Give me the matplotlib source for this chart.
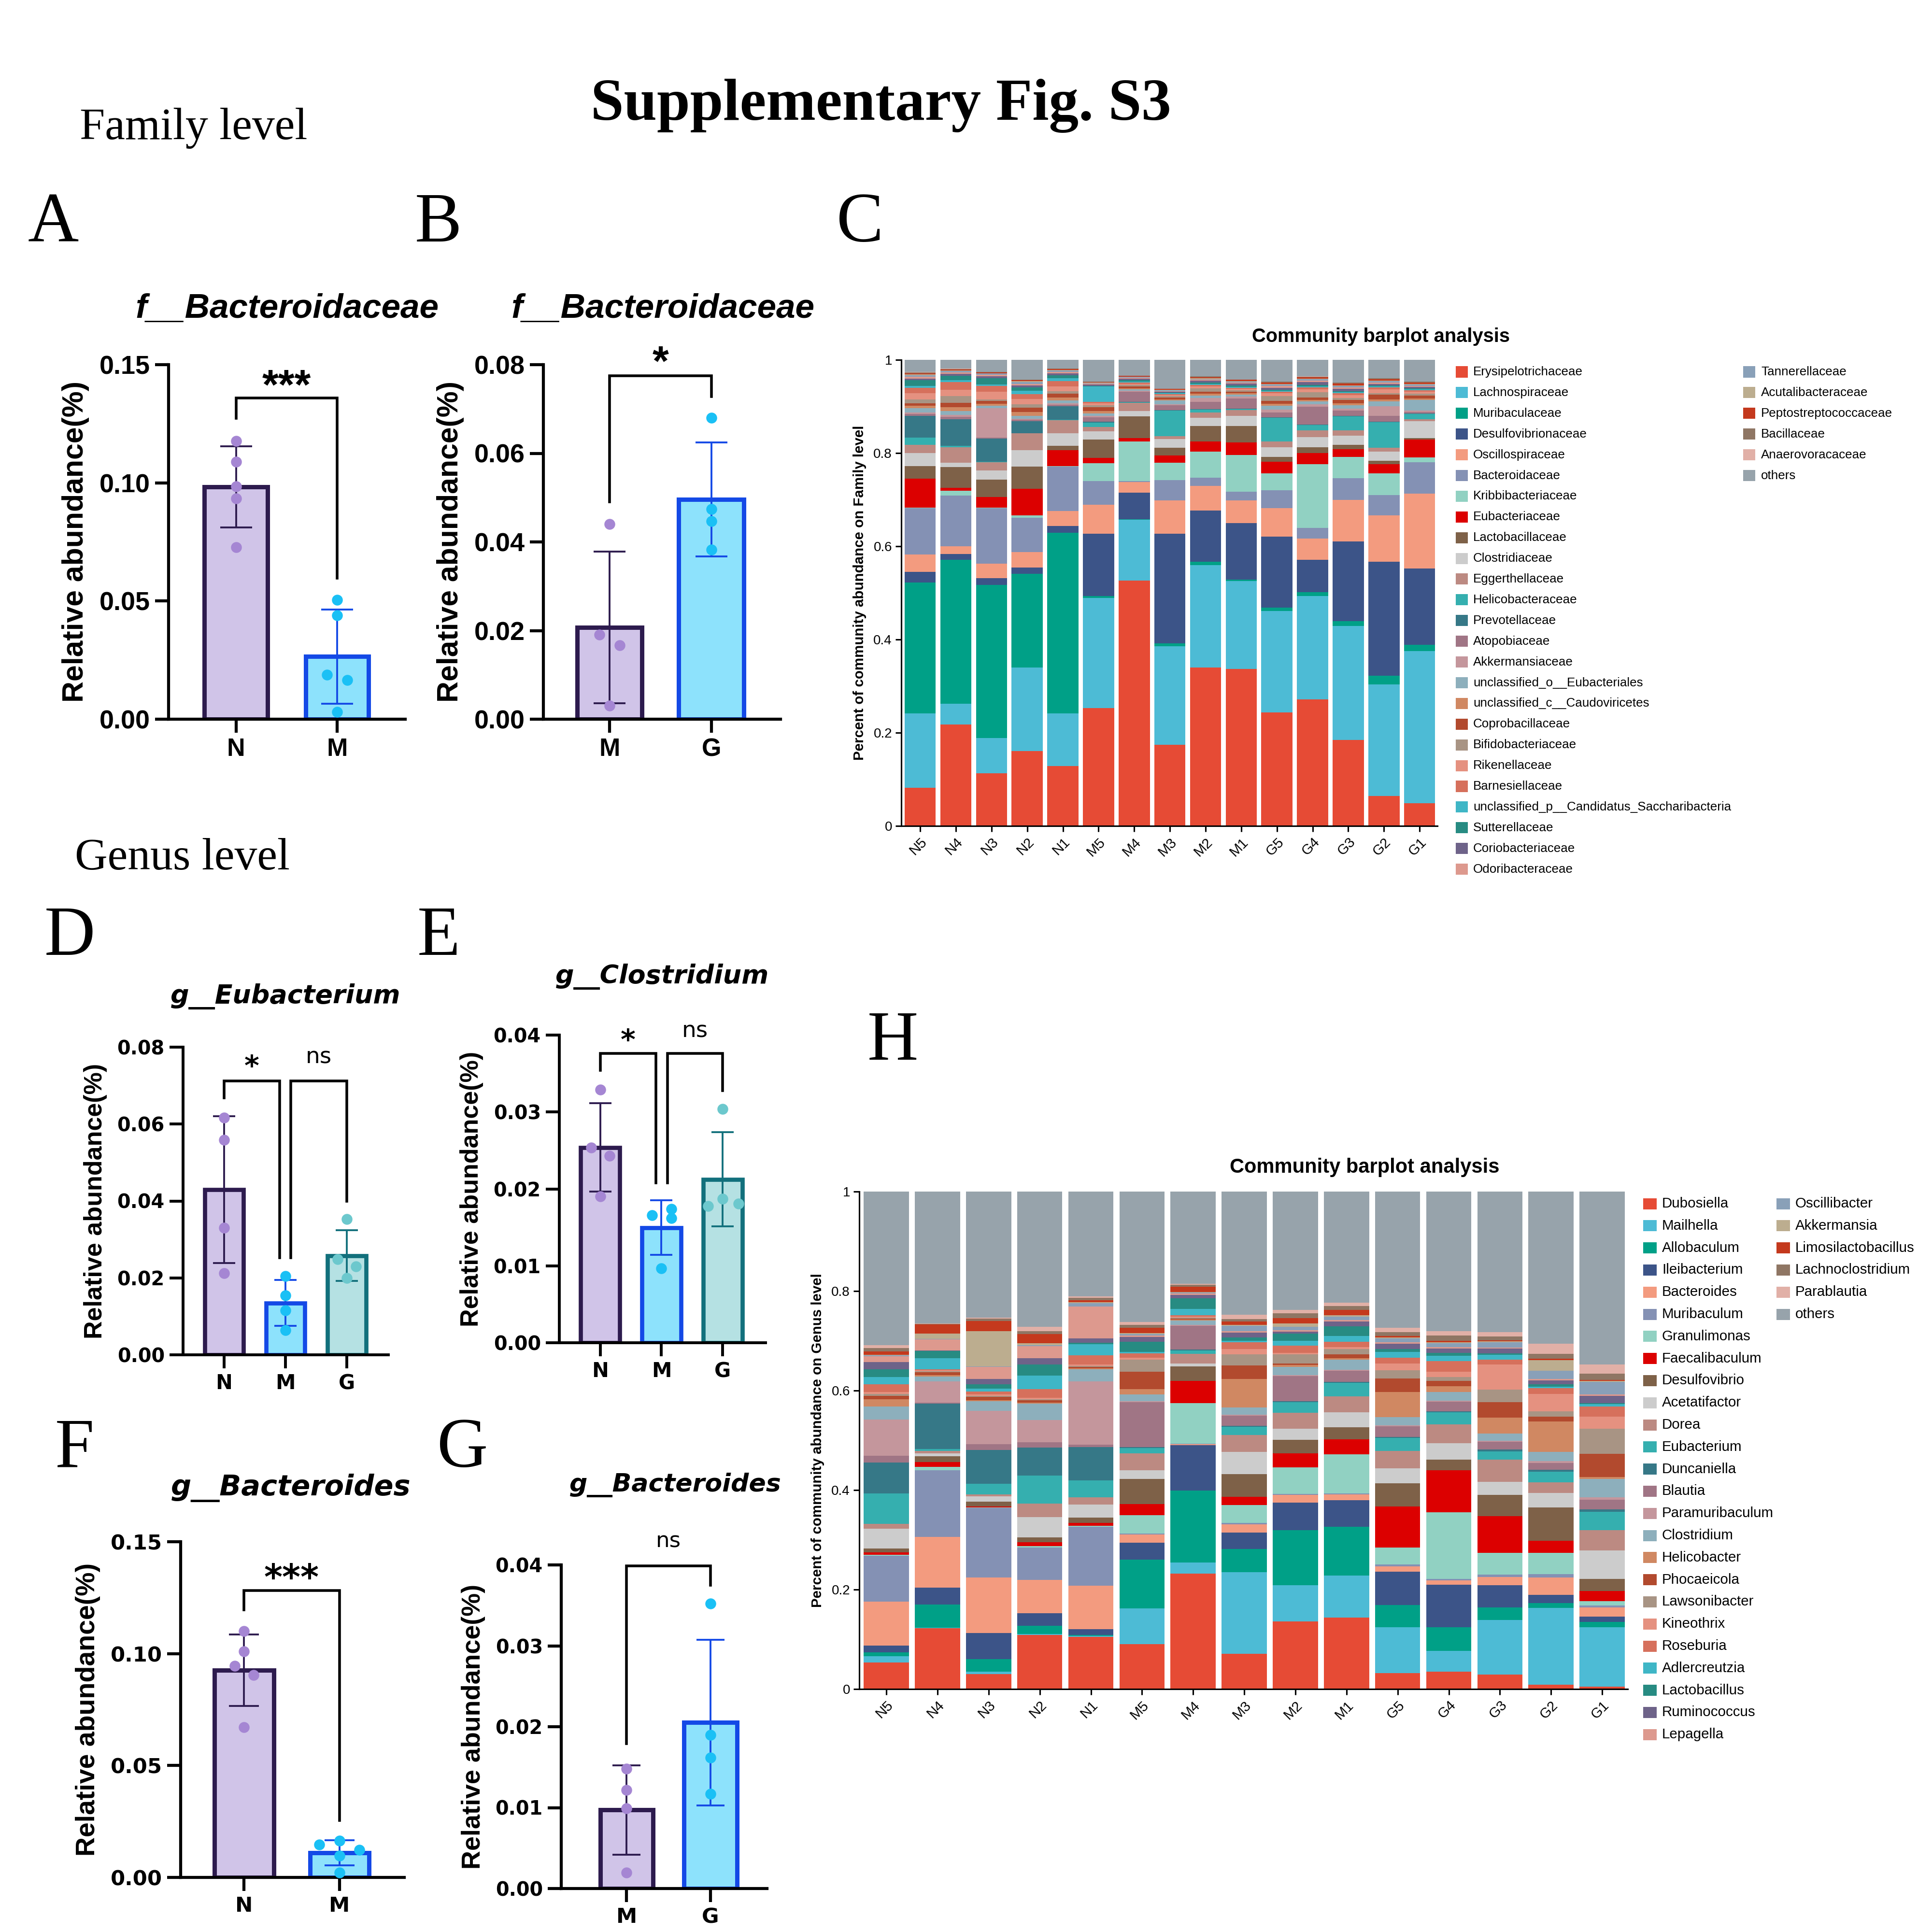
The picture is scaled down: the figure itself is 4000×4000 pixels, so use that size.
import numpy as np
import matplotlib.pyplot as plt
from matplotlib.patches import Rectangle
from matplotlib.ticker import FormatStrFormatter

plt.rcParams['font.family'] = 'Liberation Sans'

# ---------------- dot + bar panels: relative abundance per mouse ----------------
a_groups = ['N', 'M']
a_n = [0.1178, 0.109, 0.0984, 0.0934, 0.0728]
a_m = [0.0505, 0.0439, 0.0188, 0.0166, 0.003]

b_groups = ['M', 'G']
b_m = [0.044, 0.0191, 0.0167, 0.003]
b_g = [0.068, 0.0474, 0.0447, 0.0383]

d_groups = ['N', 'M', 'G']
d_n = [0.0617, 0.0559, 0.033, 0.0212]
d_m = [0.0205, 0.0154, 0.0116, 0.0064]
d_g = [0.0353, 0.0249, 0.023, 0.020]

e_groups = ['N', 'M', 'G']
e_n = [0.0329, 0.0254, 0.0243, 0.019]
e_m = [0.0174, 0.0166, 0.0162, 0.0097]
e_g = [0.0304, 0.0187, 0.0178, 0.0181]

f_groups = ['N', 'M']
f_n = [0.110, 0.101, 0.0945, 0.0904, 0.0672]
f_m = [0.0163, 0.0147, 0.0122, 0.0097, 0.0021]

g_groups = ['M', 'G']
g_m = [0.0148, 0.0122, 0.0099, 0.002]
g_g = [0.0352, 0.019, 0.0162, 0.0117]

# significance brackets: x1, x2, left leg bottom, top, right leg bottom, label, label y
a_sig = [(0, 1, 0.1273, 0.1358, 0.0596, '***', 0.1455)]
b_sig = [(0, 1, 0.049, 0.0775, 0.0728, '*', 0.083)]
d_sig = [(0, 0.91, 0.0668, 0.0712, 0.0252, '*', 0.077),
         (1.09, 2, 0.0252, 0.0712, 0.040, 'ns', 0.0774)]
e_sig = [(0, 0.91, 0.0354, 0.0376, 0.0208, '*', 0.0403),
         (1.1, 2, 0.0208, 0.0376, 0.0328, 'ns', 0.0405)]
f_sig = [(0, 1, 0.1196, 0.1283, 0.0254, '***', 0.138)]
g_sig = [(0, 1, 0.0179, 0.0399, 0.0375, 'ns', 0.0429)]

# ---------------- community barplots ----------------
samples = ['N5', 'N4', 'N3', 'N2', 'N1', 'M5', 'M4', 'M3', 'M2', 'M1',
           'G5', 'G4', 'G3', 'G2', 'G1']

family_names = ['Erysipelotrichaceae', 'Lachnospiraceae', 'Muribaculaceae', 'Desulfovibrionaceae',
                'Oscillospiraceae', 'Bacteroidaceae', 'Kribbibacteriaceae', 'Eubacteriaceae',
                'Lactobacillaceae', 'Clostridiaceae', 'Eggerthellaceae', 'Helicobacteraceae',
                'Prevotellaceae', 'Atopobiaceae', 'Akkermansiaceae', 'unclassified_o__Eubacteriales',
                'unclassified_c__Caudoviricetes', 'Coprobacillaceae', 'Bifidobacteriaceae',
                'Rikenellaceae', 'Barnesiellaceae', 'unclassified_p__Candidatus_Saccharibacteria',
                'Sutterellaceae', 'Coriobacteriaceae', 'Odoribacteraceae', 'Tannerellaceae',
                'Acutalibacteraceae', 'Peptostreptococcaceae', 'Bacillaceae', 'Anaerovoracaceae', 'others']

fam_erysipelotrichaceae = [0.082, 0.218, 0.113, 0.161, 0.129, 0.253, 0.526, 0.174, 0.340, 0.337, 0.2435, 0.271, 0.184, 0.064, 0.049]
fam_lachnospiraceae = [0.159, 0.044, 0.076, 0.179, 0.112, 0.236, 0.131, 0.212, 0.220, 0.188, 0.218, 0.222, 0.2455, 0.240, 0.326]
fam_muribaculaceae = [0.281, 0.309, 0.328, 0.201, 0.388, 0.004, 0.001, 0.006, 0.007, 0.004, 0.0065, 0.009, 0.010, 0.018, 0.014]
fam_desulfovibrionaceae = [0.023, 0.012, 0.015, 0.013, 0.015, 0.134, 0.057, 0.235, 0.110, 0.121, 0.153, 0.069, 0.171, 0.245, 0.163]
fam_oscillospiraceae = [0.037, 0.017, 0.031, 0.034, 0.032, 0.062, 0.023, 0.071, 0.053, 0.048, 0.061, 0.046, 0.089, 0.099, 0.161]
fam_bacteroidaceae = [0.100, 0.109, 0.119, 0.073, 0.095, 0.051, 0.002, 0.044, 0.017, 0.019, 0.038, 0.022, 0.047, 0.044, 0.067]
fam_kribbibacteriaceae = [0.001, 0.010, 0.001, 0.005, 0.001, 0.038, 0.085, 0.037, 0.056, 0.079, 0.036, 0.137, 0.045, 0.046, 0.011]
fam_eubacteriaceae = [0.062, 0.006, 0.023, 0.057, 0.034, 0.012, 0.007, 0.016, 0.022, 0.027, 0.025, 0.024, 0.017, 0.020, 0.0375]
fam_lactobacillaceae = [0.027, 0.045, 0.037, 0.048, 0.010, 0.039, 0.047, 0.016, 0.033, 0.035, 0.011, 0.012, 0.009, 0.007, 0.004]
fam_clostridiaceae = [0.028, 0.009, 0.020, 0.035, 0.027, 0.0175, 0.011, 0.019, 0.018, 0.022, 0.020, 0.022, 0.020, 0.020, 0.036]
fam_eggerthellaceae = [0.018, 0.033, 0.0175, 0.036, 0.027, 0.009, 0.018, 0.006, 0.011, 0.012, 0.013, 0.015, 0.011, 0.008, 0.004]
fam_helicobacteraceae = [0.015, 0.004, 0.001, 0.001, 0.001, 0.010, 0.001, 0.055, 0.006, 0.002, 0.051, 0.011, 0.030, 0.055, 0.011]
fam_prevotellaceae = [0.047, 0.057, 0.050, 0.025, 0.030, 0.002, 0.001, 0.001, 0.001, 0.001, 0.001, 0.001, 0.001, 0.001, 0.001]
fam_atopobiaceae = [0.004, 0.005, 0.002, 0.003, 0.003, 0.009, 0.022, 0.011, 0.016, 0.022, 0.010, 0.039, 0.012, 0.013, 0.004]
fam_akkermansiaceae = [0.003, 0.004, 0.063, 0.003, 0.003, 0.003, 0.002, 0.002, 0.008, 0.004, 0.006, 0.005, 0.004, 0.021, 0.003]
fam_uncl_eubacteriales = [0.009, 0.008, 0.005, 0.006, 0.006, 0.005, 0.003, 0.008, 0.005, 0.004, 0.009, 0.006, 0.007, 0.010, 0.022]
fam_uncl_caudoviricetes = [0.006, 0.008, 0.004, 0.008, 0.006, 0.006, 0.002, 0.002, 0.004, 0.003, 0.004, 0.003, 0.004, 0.004, 0.004]
fam_coprobacillaceae = [0.005, 0.010, 0.006, 0.009, 0.008, 0.008, 0.004, 0.004, 0.005, 0.004, 0.006, 0.005, 0.007, 0.010, 0.006]
fam_bifidobacteriaceae = [0.008, 0.014, 0.004, 0.008, 0.006, 0.004, 0.003, 0.003, 0.007, 0.003, 0.010, 0.012, 0.005, 0.004, 0.004]
fam_rikenellaceae = [0.013, 0.014, 0.016, 0.011, 0.010, 0.004, 0.002, 0.002, 0.004, 0.003, 0.006, 0.006, 0.006, 0.008, 0.004]
fam_barnesiellaceae = [0.012, 0.016, 0.013, 0.010, 0.011, 0.003, 0.003, 0.002, 0.003, 0.002, 0.004, 0.004, 0.004, 0.004, 0.003]
fam_uncl_saccharibacteria = [0.004, 0.004, 0.003, 0.008, 0.007, 0.033, 0.002, 0.002, 0.002, 0.002, 0.002, 0.002, 0.002, 0.002, 0.002]
fam_sutterellaceae = [0.012, 0.010, 0.013, 0.007, 0.006, 0.002, 0.003, 0.002, 0.003, 0.003, 0.002, 0.003, 0.002, 0.002, 0.002]
fam_coriobacteriaceae = [0.004, 0.004, 0.004, 0.004, 0.004, 0.003, 0.004, 0.002, 0.004, 0.004, 0.004, 0.006, 0.005, 0.003, 0.003]
fam_odoribacteraceae = [0.004, 0.003, 0.003, 0.003, 0.003, 0.002, 0.002, 0.001, 0.002, 0.002, 0.004, 0.003, 0.003, 0.003, 0.003]
fam_tannerellaceae = [0.003, 0.003, 0.003, 0.004, 0.003, 0.001, 0.002, 0.002, 0.002, 0.002, 0.003, 0.004, 0.004, 0.003, 0.003]
fam_acutalibacteraceae = [0.002, 0.001, 0.001, 0.002, 0.001, 0.001, 0.000, 0.001, 0.002, 0.001, 0.001, 0.001, 0.001, 0.001, 0.001]
fam_peptostreptococcaceae = [0.002, 0.002, 0.002, 0.002, 0.002, 0.001, 0.002, 0.002, 0.002, 0.003, 0.003, 0.003, 0.004, 0.004, 0.003]
fam_bacillaceae = [0.002, 0.001, 0.001, 0.001, 0.001, 0.001, 0.000, 0.000, 0.002, 0.001, 0.002, 0.001, 0.002, 0.002, 0.002]
fam_anaerovoracaceae = [0.001, 0.001, 0.000, 0.001, 0.000, 0.000, 0.000, 0.000, 0.000, 0.000, 0.000, 0.001, 0.000, 0.000, 0.000]
fam_others = [0.026, 0.019, 0.026, 0.042, 0.019, 0.047, 0.034, 0.062, 0.035, 0.042, 0.047, 0.035, 0.0485, 0.039, 0.0465]

genus_names = ['Dubosiella', 'Mailhella', 'Allobaculum', 'Ileibacterium', 'Bacteroides', 'Muribaculum',
               'Granulimonas', 'Faecalibaculum', 'Desulfovibrio', 'Acetatifactor', 'Dorea', 'Eubacterium',
               'Duncaniella', 'Blautia', 'Paramuribaculum', 'Clostridium', 'Helicobacter', 'Phocaeicola',
               'Lawsonibacter', 'Kineothrix', 'Roseburia', 'Adlercreutzia', 'Lactobacillus', 'Ruminococcus',
               'Lepagella', 'Oscillibacter', 'Akkermansia', 'Limosilactobacillus', 'Lachnoclostridium',
               'Parablautia', 'others']

gen_dubosiella = [0.0535, 0.122, 0.0305, 0.1085, 0.105, 0.0905, 0.232, 0.0705, 0.136, 0.144, 0.0325, 0.035, 0.029, 0.009, 0.005]
gen_mailhella = [0.0125, 0.001, 0.0045, 0.002, 0.002, 0.072, 0.022, 0.164, 0.073, 0.084, 0.0915, 0.0415, 0.110, 0.154, 0.119]
gen_allobaculum = [0.0075, 0.047, 0.025, 0.017, 0.002, 0.098, 0.145, 0.047, 0.110, 0.098, 0.0445, 0.0475, 0.025, 0.0095, 0.0105]
gen_ileibacterium = [0.0135, 0.0335, 0.053, 0.0245, 0.011, 0.034, 0.0915, 0.0335, 0.056, 0.0535, 0.067, 0.0855, 0.0445, 0.0165, 0.011]
gen_bacteroides = [0.089, 0.102, 0.111, 0.067, 0.0875, 0.0165, 0.002, 0.0165, 0.015, 0.012, 0.011, 0.009, 0.017, 0.035, 0.0185]
gen_muribaculum = [0.092, 0.134, 0.140, 0.0655, 0.119, 0.002, 0.001, 0.002, 0.002, 0.002, 0.004, 0.003, 0.005, 0.007, 0.004]
gen_granulimonas = [0.002, 0.0075, 0.001, 0.003, 0.002, 0.037, 0.081, 0.036, 0.0535, 0.078, 0.0335, 0.134, 0.043, 0.043, 0.009]
gen_faecalibaculum = [0.005, 0.0095, 0.002, 0.008, 0.005, 0.022, 0.0445, 0.0165, 0.028, 0.030, 0.083, 0.084, 0.0745, 0.0245, 0.020]
gen_desulfovibrio = [0.008, 0.011, 0.010, 0.009, 0.011, 0.050, 0.030, 0.046, 0.027, 0.0245, 0.047, 0.0215, 0.0425, 0.067, 0.0245]
gen_acetatifactor = [0.039, 0.006, 0.010, 0.041, 0.026, 0.018, 0.005, 0.0445, 0.023, 0.030, 0.030, 0.0335, 0.026, 0.029, 0.057]
gen_dorea = [0.010, 0.005, 0.004, 0.0275, 0.015, 0.034, 0.020, 0.034, 0.032, 0.0325, 0.035, 0.038, 0.0445, 0.021, 0.041]
gen_eubacterium = [0.061, 0.004, 0.022, 0.056, 0.0335, 0.010, 0.007, 0.0165, 0.021, 0.027, 0.026, 0.024, 0.017, 0.021, 0.037]
gen_duncaniella = [0.0625, 0.091, 0.068, 0.0565, 0.067, 0.002, 0.002, 0.002, 0.002, 0.002, 0.002, 0.002, 0.004, 0.004, 0.0045]
gen_blautia = [0.013, 0.002, 0.011, 0.011, 0.005, 0.091, 0.047, 0.0205, 0.051, 0.022, 0.021, 0.019, 0.015, 0.014, 0.020]
gen_paramuribaculum = [0.073, 0.043, 0.067, 0.0445, 0.127, 0.002, 0.002, 0.002, 0.002, 0.002, 0.002, 0.002, 0.002, 0.004, 0.004]
gen_clostridium = [0.026, 0.0095, 0.020, 0.0325, 0.0245, 0.013, 0.009, 0.015, 0.016, 0.021, 0.017, 0.018, 0.015, 0.018, 0.037]
gen_helicobacter = [0.015, 0.003, 0.002, 0.002, 0.002, 0.011, 0.002, 0.0565, 0.004, 0.003, 0.050, 0.011, 0.032, 0.0615, 0.004]
gen_phocaeicola = [0.007, 0.006, 0.006, 0.005, 0.003, 0.035, 0.002, 0.0275, 0.003, 0.007, 0.027, 0.011, 0.031, 0.0095, 0.047]
gen_lawsonibacter = [0.004, 0.002, 0.002, 0.002, 0.002, 0.024, 0.002, 0.022, 0.018, 0.011, 0.0165, 0.0075, 0.0245, 0.011, 0.050]
gen_kineothrix = [0.004, 0.002, 0.003, 0.003, 0.003, 0.004, 0.002, 0.011, 0.003, 0.004, 0.0135, 0.011, 0.0505, 0.035, 0.0245]
gen_roseburia = [0.015, 0.002, 0.006, 0.017, 0.0185, 0.009, 0.002, 0.0135, 0.015, 0.011, 0.0125, 0.021, 0.0105, 0.011, 0.020]
gen_adlercreutzia = [0.015, 0.022, 0.006, 0.0275, 0.022, 0.003, 0.013, 0.003, 0.0095, 0.011, 0.011, 0.0105, 0.0095, 0.003, 0.005]
gen_lactobacillus = [0.015, 0.015, 0.009, 0.022, 0.003, 0.020, 0.021, 0.007, 0.015, 0.020, 0.006, 0.006, 0.003, 0.005, 0.002]
gen_ruminococcus = [0.015, 0.001, 0.010, 0.0135, 0.009, 0.0095, 0.007, 0.0095, 0.003, 0.0095, 0.0105, 0.009, 0.009, 0.0075, 0.015]
gen_lepagella = [0.011, 0.022, 0.025, 0.024, 0.064, 0.003, 0.003, 0.003, 0.003, 0.003, 0.003, 0.003, 0.002, 0.003, 0.003]
gen_oscillibacter = [0.002, 0.001, 0.001, 0.002, 0.007, 0.003, 0.002, 0.011, 0.007, 0.007, 0.0075, 0.0075, 0.011, 0.0165, 0.025]
gen_akkermansia = [0.001, 0.011, 0.070, 0.004, 0.002, 0.002, 0.001, 0.002, 0.007, 0.002, 0.002, 0.002, 0.002, 0.022, 0.002]
gen_limosilactobacillus = [0.007, 0.018, 0.021, 0.0185, 0.004, 0.011, 0.011, 0.006, 0.011, 0.011, 0.003, 0.003, 0.002, 0.003, 0.002]
gen_lachnoclostridium = [0.007, 0.001, 0.005, 0.005, 0.004, 0.006, 0.004, 0.005, 0.009, 0.0075, 0.0075, 0.011, 0.0075, 0.0095, 0.0125]
gen_parablautia = [0.006, 0.001, 0.002, 0.0095, 0.003, 0.005, 0.002, 0.009, 0.007, 0.0075, 0.009, 0.008, 0.009, 0.020, 0.0185]
gen_others = [0.3085, 0.265, 0.253, 0.2715, 0.211, 0.2625, 0.185, 0.2475, 0.238, 0.223, 0.274, 0.281, 0.2825, 0.306, 0.3475]

family_series = [fam_erysipelotrichaceae, fam_lachnospiraceae, fam_muribaculaceae, fam_desulfovibrionaceae,
                 fam_oscillospiraceae, fam_bacteroidaceae, fam_kribbibacteriaceae, fam_eubacteriaceae,
                 fam_lactobacillaceae, fam_clostridiaceae, fam_eggerthellaceae, fam_helicobacteraceae,
                 fam_prevotellaceae, fam_atopobiaceae, fam_akkermansiaceae, fam_uncl_eubacteriales,
                 fam_uncl_caudoviricetes, fam_coprobacillaceae, fam_bifidobacteriaceae, fam_rikenellaceae,
                 fam_barnesiellaceae, fam_uncl_saccharibacteria, fam_sutterellaceae, fam_coriobacteriaceae,
                 fam_odoribacteraceae, fam_tannerellaceae, fam_acutalibacteraceae, fam_peptostreptococcaceae,
                 fam_bacillaceae, fam_anaerovoracaceae, fam_others]
genus_series = [gen_dubosiella, gen_mailhella, gen_allobaculum, gen_ileibacterium, gen_bacteroides,
                gen_muribaculum, gen_granulimonas, gen_faecalibaculum, gen_desulfovibrio, gen_acetatifactor,
                gen_dorea, gen_eubacterium, gen_duncaniella, gen_blautia, gen_paramuribaculum, gen_clostridium,
                gen_helicobacter, gen_phocaeicola, gen_lawsonibacter, gen_kineothrix, gen_roseburia,
                gen_adlercreutzia, gen_lactobacillus, gen_ruminococcus, gen_lepagella, gen_oscillibacter,
                gen_akkermansia, gen_limosilactobacillus, gen_lachnoclostridium, gen_parablautia, gen_others]

palette = ['#E64B35', '#4DBBD5', '#00A087', '#3C5488', '#F39B7F', '#8491B4', '#91D1C2', '#DC0000',
           '#7E6148', '#CCCCCC', '#BC8A82', '#35AFAF', '#367887', '#A07585', '#C4969C', '#8DAFBC',
           '#D08862', '#B24A2E', '#A89484', '#E59180', '#D6705C', '#3FB6C6', '#278B82', '#6E6389',
           '#DD998E', '#89A0B8', '#BCAD8F', '#C4391D', '#8F7664', '#E1B0A7', '#97A3AB']

N_STYLE = ('#D0C4E8', '#2D1B4E', '#A586D3')
M_STYLE = ('#8DE2FC', '#1449E6', '#1AC0F5')
G_STYLE = ('#B5E1E3', '#12707C', '#6CC8CD')

fig = plt.figure(figsize=(16, 16), dpi=250)


def box(x0, y0, x1, y1):
    # pixel box on the 4000 px canvas -> axes rect
    return [x0 / 4000, 1 - y1 / 4000, (x1 - x0) / 4000, (y1 - y0) / 4000]


def dot_bar(rect, groups, values, jitter, styles, ylim, step, xlim, width, sig,
            font, tick_fs, xlab_fs, ylab_fs, star_fs, ns_fs, cap, lw, spine_w):
    ax = fig.add_axes(rect)
    for i, (vals, jit, st) in enumerate(zip(values, jitter, styles)):
        face, edge, dot = st
        m = np.mean(vals)
        sd = np.std(vals, ddof=1)
        ax.bar(i, m, width=width, color=face, edgecolor=edge, linewidth=lw, zorder=2)
        ax.errorbar(i, m, yerr=sd, fmt='none', ecolor=edge, elinewidth=1.1,
                    capsize=cap, capthick=1.1, zorder=3)
        ax.scatter(i + np.array(jit), vals, s=42, color=dot, linewidths=0, zorder=4, clip_on=False)
    for x1, x2, yl, yt, yr, txt, ty in sig:
        ax.plot([x1, x1, x2, x2], [yl, yt, yt, yr], color='black', lw=1.6, clip_on=False,
                solid_joinstyle='miter')
        if txt.startswith('*'):
            ax.annotate(txt, ((x1 + x2) / 2, ty), xytext=(0, -0.3 * star_fs), textcoords='offset points',
                        ha='center', va='center', fontsize=star_fs, fontweight='bold', family=font,
                        annotation_clip=False)
        else:
            ax.annotate(txt, ((x1 + x2) / 2, ty), ha='center', va='center', fontsize=ns_fs,
                        family=font, annotation_clip=False)
    ax.set_xlim(*xlim)
    ax.set_ylim(*ylim)
    ax.set_yticks(np.arange(0, ylim[1] + step / 2, step))
    ax.yaxis.set_major_formatter(FormatStrFormatter('%.2f'))
    ax.set_xticks(range(len(groups)))
    ax.set_xticklabels(groups, fontsize=xlab_fs, fontweight='bold', family=font)
    for lab in ax.get_yticklabels():
        lab.set_fontsize(tick_fs)
        lab.set_fontweight('bold')
        lab.set_family(font)
    for s in ['top', 'right']:
        ax.spines[s].set_visible(False)
    for s in ['left', 'bottom']:
        ax.spines[s].set_linewidth(spine_w)
    ax.tick_params(width=spine_w, length=8, pad=3)
    ax.set_ylabel('Relative abundance(%)', fontsize=ylab_fs, fontweight='bold', labelpad=6)
    return ax


def stacked(rect, series, ylabel, width, title_xy, title_fs):
    ax = fig.add_axes(rect)
    x = np.arange(len(samples))
    bottom = np.zeros(len(samples))
    for vals, col in zip(series, palette):
        ax.bar(x, vals, width, bottom=bottom, color=col, linewidth=0)
        bottom = bottom + np.array(vals)
    ax.set_xlim(-0.53, 14.5)
    ax.set_ylim(0, 1)
    ax.set_yticks([0, 0.2, 0.4, 0.6, 0.8, 1])
    ax.set_yticklabels(['0', '0.2', '0.4', '0.6', '0.8', '1'], fontsize=8)
    ax.set_xticks(x)
    ax.set_xticklabels(samples, rotation=45, ha='right', rotation_mode='anchor', fontsize=8.5)
    for s in ['top', 'right']:
        ax.spines[s].set_visible(False)
    for s in ['left', 'bottom']:
        ax.spines[s].set_linewidth(0.9)
    ax.tick_params(width=0.9, length=3.5, pad=2)
    ax.set_ylabel(ylabel, fontsize=8.5, fontweight='bold', labelpad=4)
    fig.text(title_xy[0], title_xy[1], 'Community barplot analysis', ha='center', va='center',
             fontsize=title_fs, fontweight='bold')
    return ax


def legend_cols(names, px_patch, px_text, py0, pitch, n_first, px_patch2, px_text2, pw, ph, fs):
    for i, (nm, col) in enumerate(zip(names, palette)):
        if i < n_first:
            xp, xt, yy = px_patch, px_text, py0 + i * pitch
        else:
            xp, xt, yy = px_patch2, px_text2, py0 + (i - n_first) * pitch
        y = 1 - yy / 4000
        fig.add_artist(Rectangle((xp / 4000, y - ph / 8000), pw / 4000, ph / 4000,
                                 transform=fig.transFigure, color=col, lw=0))
        fig.text(xt / 4000, y, nm, fontsize=fs, ha='left', va='center')


SERIF = 'Liberation Serif'
WIDE = 'DejaVu Sans'

# ---- headings ----
fig.text(0.456, 0.938, 'Supplementary Fig. S3', family=SERIF, fontsize=35.5, fontweight='bold',
         ha='center', va='baseline')
fig.text(0.04125, 0.928, 'Family level', family=SERIF, fontsize=27, ha='left', va='baseline')
fig.text(0.03875, 0.55, 'Genus level', family=SERIF, fontsize=27, ha='left', va='baseline')
for letter, lx, ly in [('A', 0.0145, 0.875), ('B', 0.2148, 0.875), ('C', 0.433, 0.875),
                       ('D', 0.023, 0.5058), ('E', 0.216, 0.5058), ('F', 0.0285, 0.2408),
                       ('G', 0.2263, 0.2408), ('H', 0.449, 0.4515)]:
    fig.text(lx, ly, letter, family=SERIF, fontsize=42, ha='left', va='baseline')

# ---- A ----
dot_bar(box(349, 755, 839, 1489), a_groups, [a_n, a_m], [[0, 0, 0, 0, 0], [0, 0, -0.1, 0.1, 0]],
        [N_STYLE, M_STYLE], (0, 0.15), 0.05, (-0.665, 1.67), 0.62, a_sig,
        'Liberation Sans', 15.5, 15, 17.5, 25, 15, 9.5, 2.6, 1.8)
fig.text(0.1485, 0.84, 'f__Bacteroidaceae', ha='center', va='center', fontsize=20.5,
         fontweight='bold', style='italic')

# ---- B ----
dot_bar(box(1125, 755, 1616, 1489), b_groups, [b_m, b_g], [[0, -0.1, 0.1, 0], [0, 0, 0, 0]],
        [N_STYLE, M_STYLE], (0, 0.08), 0.02, (-0.65, 1.68), 0.64, b_sig,
        'Liberation Sans', 15.5, 15, 17.5, 25, 15, 9.5, 2.6, 1.8)
fig.text(0.343, 0.84, 'f__Bacteroidaceae', ha='center', va='center', fontsize=20.5,
         fontweight='bold', style='italic')

# ---- D ----
dot_bar(box(379, 2168, 804, 2805), d_groups, [d_n, d_m, d_g],
        [[0, 0, 0, 0], [0, 0, 0, 0], [0, -0.145, 0.15, 0]],
        [N_STYLE, M_STYLE, G_STYLE], (0, 0.08), 0.02, (-0.667, 2.68), 0.63, d_sig,
        WIDE, 11.5, 12, 15, 17, 13.5, 6.5, 2.5, 1.7)
fig.text(0.1478, 0.4843, 'g__Eubacterium', family=WIDE, ha='center', va='center', fontsize=15.5,
         fontweight='bold', style='italic')

# ---- E ----
dot_bar(box(1158, 2143, 1585, 2780), e_groups, [e_n, e_m, e_g],
        [[0, -0.15, 0.15, 0], [0.16, -0.15, 0.16, 0], [0, 0, -0.24, 0.26]],
        [N_STYLE, M_STYLE, G_STYLE], (0, 0.04), 0.01, (-0.667, 2.70), 0.64, e_sig,
        WIDE, 11.5, 12, 15, 17, 13.5, 6.5, 2.5, 1.7)
fig.text(0.3428, 0.4945, 'g__Clostridium', family=WIDE, ha='center', va='center', fontsize=15.5,
         fontweight='bold', style='italic')

# ---- F ----
dot_bar(box(374, 3192, 837, 3887), f_groups, [f_n, f_m],
        [[0, 0, -0.1, 0.1, 0], [0, -0.21, 0.21, 0, 0]],
        [N_STYLE, M_STYLE], (0, 0.15), 0.05, (-0.665, 1.68), 0.62, f_sig,
        WIDE, 12.5, 12.5, 16, 21, 13.5, 9, 2.6, 1.8)
fig.text(0.1505, 0.23, 'g__Bacteroides', family=WIDE, ha='center', va='center', fontsize=17,
         fontweight='bold', style='italic')

# ---- G ----
dot_bar(box(1162, 3240, 1588, 3910), g_groups, [g_m, g_g], [[0, 0, 0, 0], [0, 0, 0, 0]],
        [N_STYLE, M_STYLE], (0, 0.04), 0.01, (-0.78, 1.675), 0.63, g_sig,
        WIDE, 11.5, 12.5, 15.5, 17, 13, 8.3, 2.6, 1.8)
fig.text(0.3495, 0.2313, 'g__Bacteroides', family=WIDE, ha='center', va='center', fontsize=15,
         fontweight='bold', style='italic')

# ---- C: family level community barplot ----
stacked(box(1866, 745, 2976, 1710), family_series, 'Percent of community abundance on Family level',
        0.875, (0.7148, 0.8258), 11.5)
legend_cols(family_names, 3014, 3050, 770, 42.9, 25, 3609, 3646, 25, 23, 7.5)

# ---- H: genus level community barplot ----
stacked(box(1779, 2467, 3370, 3497), genus_series, 'Percent of community abundance on Genus level',
        0.884, (0.7063, 0.3958), 12)
legend_cols(genus_names, 3402, 3441, 2492, 45.8, 25, 3678, 3717, 28, 23, 8.5)

fig.savefig('out.png', dpi=250)
